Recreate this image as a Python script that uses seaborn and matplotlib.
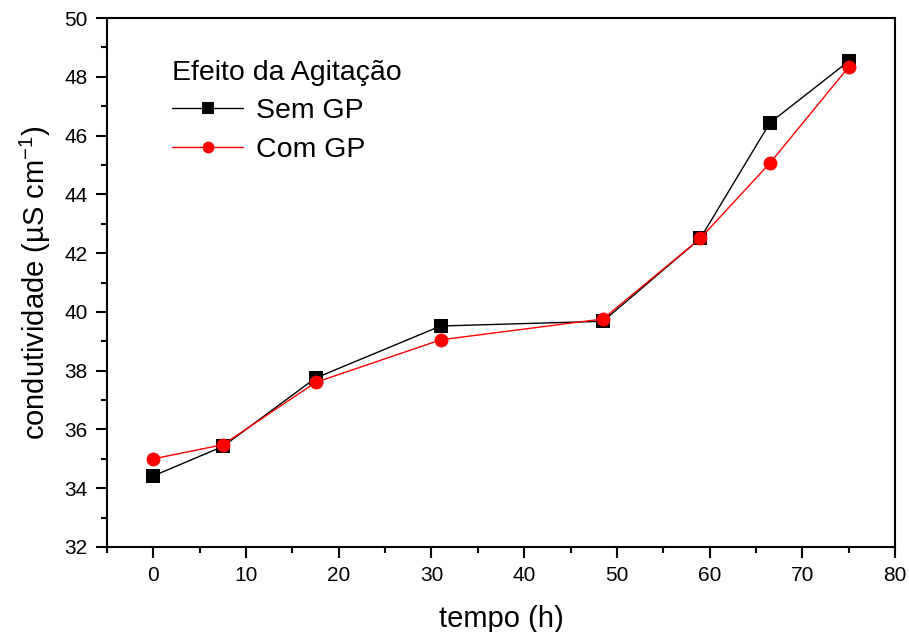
import matplotlib
matplotlib.use("Agg")
import matplotlib.pyplot as plt
from matplotlib.ticker import MultipleLocator
import seaborn as sns
import pandas as pd

# ==============================
# DATA
# ==============================

tempo = [0, 7.5, 17.5, 31, 48.5, 59, 66.5, 75]
sem_gp = [34.42, 35.42, 37.75, 39.52, 39.68, 42.5, 46.43, 48.53]
com_gp = [35.0, 35.48, 37.6, 39.05, 39.76, 42.5, 45.06, 48.33]
series_names = ["Sem GP", "Com GP"]

df = pd.concat([
    pd.DataFrame({"tempo": tempo, "cond": sem_gp, "serie": series_names[0]}),
    pd.DataFrame({"tempo": tempo, "cond": com_gp, "serie": series_names[1]}),
])

# ==============================
# PLOT
# ==============================

sns.set_style("ticks")
plt.rcParams["font.family"] = ["Liberation Sans", "DejaVu Sans"]
plt.rcParams["mathtext.fontset"] = "custom"
plt.rcParams["mathtext.rm"] = "Liberation Sans"
plt.rcParams["text.color"] = "black"
plt.rcParams["axes.labelcolor"] = "black"

fig = plt.figure(figsize=(9.09, 6.32), dpi=100)
ax = fig.add_axes([0.1177, 0.1345, 0.8669, 0.837])

sns.lineplot(data=df, x="tempo", y="cond", hue="serie", style="serie",
             palette={"Sem GP": "black", "Com GP": "red"},
             markers={"Sem GP": "s", "Com GP": "o"}, dashes=False,
             markersize=10, linewidth=1, markeredgewidth=0, ax=ax)

ax.set_xlim(-5, 80)
ax.set_ylim(32, 50)
ax.xaxis.set_major_locator(MultipleLocator(10))
ax.xaxis.set_minor_locator(MultipleLocator(5))
ax.yaxis.set_major_locator(MultipleLocator(2))
ax.yaxis.set_minor_locator(MultipleLocator(1))
ax.tick_params(which="major", direction="out", length=8, width=1.5, labelsize=15,
               colors="black", pad=6)
ax.tick_params(which="minor", direction="out", length=4.5, width=1.5, colors="black")
for s in ax.spines.values():
    s.set_linewidth(1.5)
    s.set_color("black")

ax.set_xlabel("tempo (h)", fontsize=21, labelpad=14)
ax.set_ylabel("condutividade (µS cm$^{\\mathrm{-1}}$)", fontsize=21, labelpad=8)

leg = ax.legend(title="Efeito da Agitação", frameon=False, loc="upper left",
                bbox_to_anchor=(0.068, 0.943), borderaxespad=0,
                fontsize=20.5, title_fontsize=20.5, markerscale=0.85,
                handlelength=2.5, handletextpad=0.45, labelspacing=0.45)
leg._legend_box.align = "left"
for t in leg.get_texts():
    t.set_color("black")
leg.get_title().set_color("black")

fig.savefig("out.png", dpi=100)
